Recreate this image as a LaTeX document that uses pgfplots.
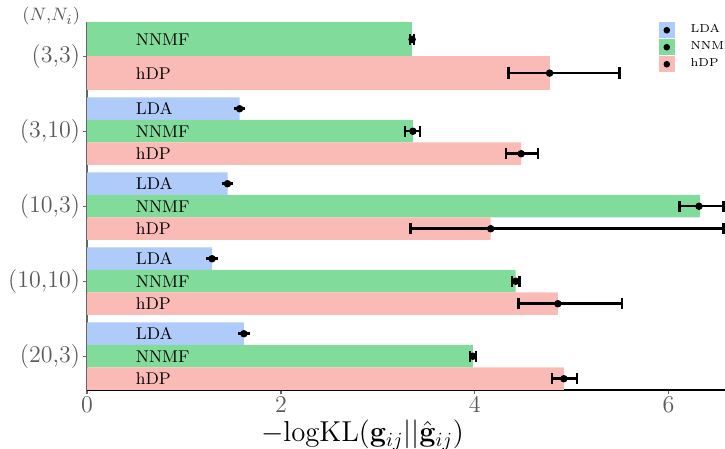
\documentclass[border=0pt]{standalone}
\usepackage{pgfplots}
\pgfplotsset{compat=1.18}
\definecolor{ldacol}{RGB}{174,203,250}
\definecolor{nnmfcol}{RGB}{129,220,156}
\definecolor{hdpcol}{RGB}{250,187,182}
\newcommand{\NNi}{$(N{,}N_i)$}
\begin{document}
\begin{tikzpicture}
\begin{axis}[
 name=ax,
 scale only axis,
 width=318.95pt, height=183.75pt,
 xmin=0, xmax=6.583,
 ymin=-0.45, ymax=4.45,
 axis x line=bottom, axis y line=left,
 x axis line style={-, black, line width=0.8pt},
 y axis line style={-, black!60, line width=0.8pt},
 xtick={0,2,4,6},
 ytick={0,1,2,3,4},
 yticklabels={(20,3),(10,10),(10,3),(3,10),(3,3)},
 extra y ticks={4.45},
 extra y tick labels={\NNi},
 extra y tick style={tick style={draw=none}, yticklabel style={yshift=3pt, font=\fontsize{9.5}{11}\selectfont}},
 tick align=outside,
 major tick length=2pt,
 tick style={black!60, line width=0.6pt},
 ticklabel style={text=black!65, font=\fontsize{12}{14}\selectfont},
 xticklabel style={yshift=1.8pt},
 yticklabel style={xshift=2pt},
 xlabel={$-\mathrm{logKL}(\mathbf{g}_{ij}||\hat{\mathbf{g}}_{ij})$},
 xlabel style={at={(axis description cs:0.4317,0)}, anchor=base, yshift=-26pt, font=\fontsize{14.5}{17}\selectfont},
 legend style={at={(0.8966,1)}, anchor=north west, draw=none, fill=none, inner sep=0pt, outer sep=0pt, row sep=0.75pt, font=\fontsize{5.8}{7}\selectfont, nodes={inner sep=0pt}},
 legend cell align=left,
 clip mode=individual,
]
\addlegendimage{legend image code/.code={\fill[ldacol, draw=none] (0pt,-3.875pt) rectangle (7.75pt,3.875pt); \fill[black, draw=none] (3.875pt,0pt) circle (1.65pt); \path[draw=none, fill=none] (0pt,0pt) rectangle (15.75pt,0.1pt);}}
\addlegendentry{LDA}
\addlegendimage{legend image code/.code={\fill[nnmfcol, draw=none] (0pt,-3.875pt) rectangle (7.75pt,3.875pt); \fill[black, draw=none] (3.875pt,0pt) circle (1.65pt); \path[draw=none, fill=none] (0pt,0pt) rectangle (15.75pt,0.1pt);}}
\addlegendentry{NNMF}
\addlegendimage{legend image code/.code={\fill[hdpcol, draw=none] (0pt,-3.875pt) rectangle (7.75pt,3.875pt); \fill[black, draw=none] (3.875pt,0pt) circle (1.65pt); \path[draw=none, fill=none] (0pt,0pt) rectangle (15.75pt,0.1pt);}}
\addlegendentry{hDP}

\addplot[xbar, bar shift=0pt, bar width=0.45, fill=nnmfcol, draw=none, forget plot] coordinates {(3.354,4.225)};
\addplot[xbar, bar shift=0pt, bar width=0.45, fill=hdpcol, draw=none, forget plot] coordinates {(4.773,3.775)};
\addplot[xbar, bar shift=0pt, bar width=0.3, fill=ldacol, draw=none, forget plot] coordinates {(1.574,3.3) (1.449,2.3) (1.290,1.3) (1.618,0.3)};
\addplot[xbar, bar shift=0pt, bar width=0.3, fill=nnmfcol, draw=none, forget plot] coordinates {(3.362,3) (6.325,2) (4.423,1) (3.981,0)};
\addplot[xbar, bar shift=0pt, bar width=0.3, fill=hdpcol, draw=none, forget plot] coordinates {(4.479,2.7) (4.165,1.7) (4.858,0.7) (4.920,-0.3)};

\addplot[only marks, mark=*, mark size=1.65pt, black, forget plot,
 error bars/.cd, x dir=both, x explicit, error mark=|,
 error bar style={line width=1.25pt, black},
 error mark options={mark size=2.85pt, line width=1.25pt, black}]
 table[x=x, y=y, x error plus=ep, x error minus=em] {
x y em ep
3.354 4.225 0.02 0.02
4.773 3.775 0.423 0.719
1.574 3.3 0 0
3.362 3 0.082 0.073
4.479 2.7 0.155 0.173
1.449 2.3 0 0
6.315 2 0.203 0.255
4.165 1.7 0.828 2.405
1.290 1.3 0 0
4.423 1 0.04 0.04
4.858 0.7 0.405 0.663
1.618 0.3 0 0
3.981 0 0.03 0.03
4.920 -0.3 0.121 0.137
};

\node[anchor=west, inner sep=0pt, font=\fontsize{8.5}{10}\selectfont] at (axis cs:0.5,4.225) {NNMF};
\node[anchor=west, inner sep=0pt, font=\fontsize{8.5}{10}\selectfont] at (axis cs:0.5,3.775) {hDP};
\node[anchor=west, inner sep=0pt, font=\fontsize{8.5}{10}\selectfont] at (axis cs:0.5,3.3) {LDA};
\node[anchor=west, inner sep=0pt, font=\fontsize{8.5}{10}\selectfont] at (axis cs:0.5,3) {NNMF};
\node[anchor=west, inner sep=0pt, font=\fontsize{8.5}{10}\selectfont] at (axis cs:0.5,2.7) {hDP};
\node[anchor=west, inner sep=0pt, font=\fontsize{8.5}{10}\selectfont] at (axis cs:0.5,2.3) {LDA};
\node[anchor=west, inner sep=0pt, font=\fontsize{8.5}{10}\selectfont] at (axis cs:0.5,2) {NNMF};
\node[anchor=west, inner sep=0pt, font=\fontsize{8.5}{10}\selectfont] at (axis cs:0.5,1.7) {hDP};
\node[anchor=west, inner sep=0pt, font=\fontsize{8.5}{10}\selectfont] at (axis cs:0.5,1.3) {LDA};
\node[anchor=west, inner sep=0pt, font=\fontsize{8.5}{10}\selectfont] at (axis cs:0.5,1) {NNMF};
\node[anchor=west, inner sep=0pt, font=\fontsize{8.5}{10}\selectfont] at (axis cs:0.5,0.7) {hDP};
\node[anchor=west, inner sep=0pt, font=\fontsize{8.5}{10}\selectfont] at (axis cs:0.5,0.3) {LDA};
\node[anchor=west, inner sep=0pt, font=\fontsize{8.5}{10}\selectfont] at (axis cs:0.5,0) {NNMF};
\node[anchor=west, inner sep=0pt, font=\fontsize{8.5}{10}\selectfont] at (axis cs:0.5,-0.3) {hDP};
\end{axis}
\pgfresetboundingbox
\path[use as bounding box] ([xshift=-43.55pt, yshift=-29.5pt]ax.south west) rectangle ([yshift=11.25pt]ax.north east);
\end{tikzpicture}
\end{document}
